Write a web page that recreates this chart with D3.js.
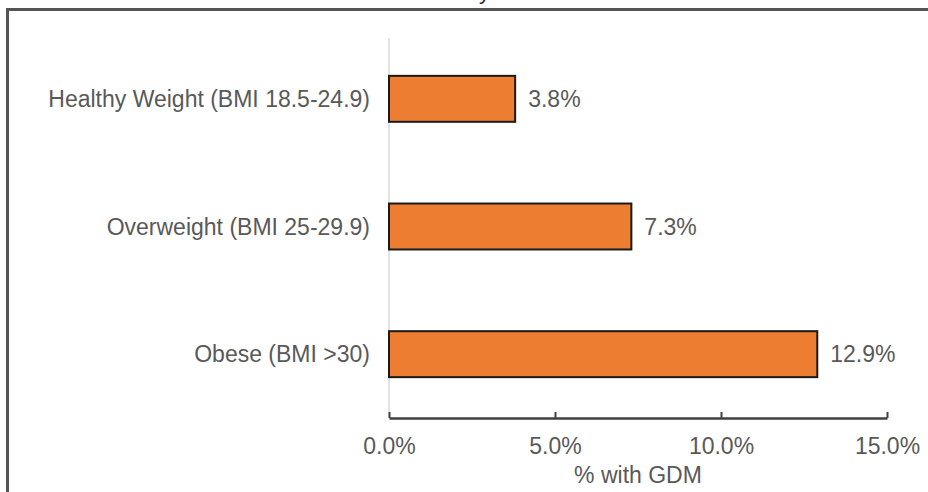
<!DOCTYPE html>
<html><head><meta charset="utf-8">
<script src="https://cdn.jsdelivr.net/npm/d3@7"></script>
<style>
html,body{margin:0;padding:0;background:#fff;}
svg{display:block;font-family:"Liberation Sans",Arial,sans-serif;}
</style></head>
<body>
<script>
const categories = ["Healthy Weight (BMI 18.5-24.9)", "Overweight (BMI 25-29.9)", "Obese (BMI >30)"];
const values = [3.8, 7.3, 12.9];
const tickValues = [0, 5, 10, 15];
const xTitle = "% with GDM";
const chartTitle = "Rates of GDM by BMI";

const W = 928, H = 492;
const FS = 23;
const svg = d3.select("body").append("svg").attr("width", W).attr("height", H);

// frame
svg.append("path").attr("d", `M7.5,${H} L7.5,9.5 L${W},9.5`)
  .attr("fill","none").attr("stroke","#555").attr("stroke-width",3);

// partially visible title (only descender shows, as in the reference)
const t = svg.append("text").attr("y", -1).attr("font-size", 22).attr("fill","#222").text(chartTitle);
const node = t.node();
const idx = chartTitle.indexOf("by") + 1;
const pre = node.getSubStringLength(0, idx);
t.attr("x", 479 - pre);

const x = d3.scaleLinear().domain([0, 15]).range([389, 887]);
const y = d3.scaleBand().domain(categories).range([35, 418]).paddingInner(0.64).paddingOuter(0.32);

// vertical axis line
svg.append("line").attr("x1", x(0)).attr("x2", x(0)).attr("y1", 38).attr("y2", 418)
  .attr("stroke","#d9d9d9").attr("stroke-width",1.5);

// bars
svg.selectAll("rect.bar").data(values).join("rect").attr("class","bar")
  .attr("x", x(0)).attr("y", (d,i)=>y(categories[i]))
  .attr("width", d=>x(d)-x(0)).attr("height", y.bandwidth())
  .attr("fill","#ED7D31").attr("stroke","#1a1a1a").attr("stroke-width",2);

// value labels
svg.selectAll("text.val").data(values).join("text").attr("class","val")
  .attr("x", d=>x(d)+13).attr("y", (d,i)=>y(categories[i])+y.bandwidth()/2)
  .attr("dy","0.35em").attr("font-size",FS).attr("fill","#595959")
  .text(d=>d.toFixed(1)+"%");

// category labels
svg.selectAll("text.cat").data(categories).join("text").attr("class","cat")
  .attr("x", 370).attr("y", d=>y(d)+y.bandwidth()/2)
  .attr("dy","0.35em").attr("text-anchor","end").attr("font-size",FS).attr("fill","#595959")
  .text(d=>d);

// x axis
const ax = svg.append("g").attr("transform","translate(0,418)")
  .call(d3.axisBottom(x).tickValues(tickValues).tickSizeInner(-6).tickSizeOuter(0).tickPadding(19.5)
    .tickFormat(d=>d.toFixed(1)+"%"));
ax.select(".domain").attr("stroke","#404040").attr("stroke-width",2.5);
ax.selectAll(".tick line").attr("stroke","#404040").attr("stroke-width",2);
ax.selectAll(".tick text").attr("font-size",FS).attr("fill","#595959")
  .attr("font-family","Liberation Sans, Arial, sans-serif");

svg.append("text").attr("x", 638).attr("y", 483).attr("text-anchor","middle")
  .attr("font-size",FS).attr("fill","#595959").text(xTitle);
</script>
</body></html>
